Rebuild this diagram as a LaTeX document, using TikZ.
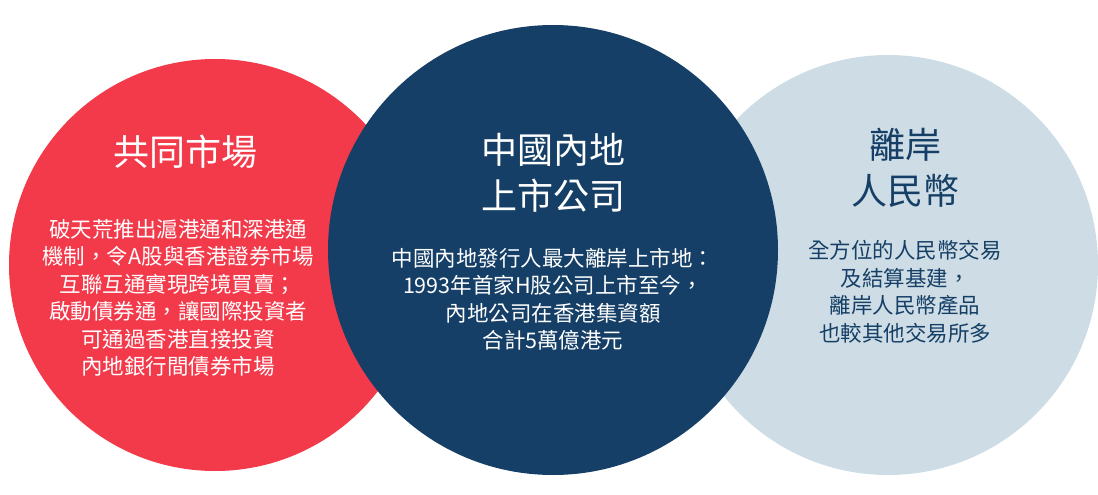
\documentclass[tikz,border=0pt]{standalone}
\usepackage{fontspec}
\setmainfont{Noto Sans CJK TC}
\definecolor{marketred}{HTML}{F23A4B}
\definecolor{mainlandnavy}{HTML}{153F66}
\definecolor{offshorelight}{HTML}{CEDCE5}
\tikzset{
  title/.style={align=center,font=\fontsize{36}{46}\selectfont,inner sep=0pt},
  body/.style={align=center,font=\fontsize{21.5}{27.5}\selectfont,inner sep=0pt}
}
\begin{document}
\begin{tikzpicture}[x=1pt,y=-1pt]
\useasboundingbox (0,0) rectangle (1098,495);
% circles
\fill[marketred] (215,265) circle (206);
\fill[offshorelight] (888,265) circle (210);
\fill[mainlandnavy] (553,250) circle (225);
% texts
\node[title,text=white] (common) at (185,152) {共同市場};
\node[body,text=white] (commonbody) at (178,298) {破天荒推出滬港通和深港通\\機制，令A股與香港證券市場\\互聯互通實現跨境買賣；\\啟動債券通，讓國際投資者\\可通過香港直接投資\\內地銀行間債券市場};
\node[title,text=white] (mainland) at (553,173) {中國內地\\上市公司};
\node[body,text=white] (mainlandbody) at (553,299) {中國內地發行人最大離岸上市地：\\1993年首家H股公司上市至今，\\內地公司在香港集資額\\合計5萬億港元};
\node[title,text=mainlandnavy] (offshore) at (905,168) {離岸\\人民幣};
\node[body,text=mainlandnavy] (offshorebody) at (905,292) {全方位的人民幣交易\\及結算基建，\\離岸人民幣產品\\也較其他交易所多};
\end{tikzpicture}
\end{document}
